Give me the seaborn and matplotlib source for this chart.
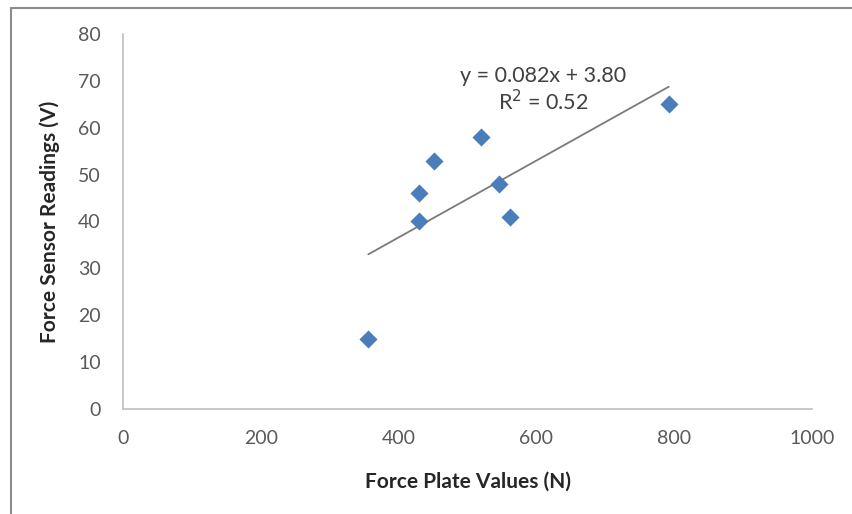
import matplotlib
matplotlib.use("Agg")
import matplotlib.pyplot as plt
from matplotlib.patches import Rectangle
import numpy as np
import pandas as pd
import seaborn as sns

# Paired measurements: force plate (N) vs. force sensor output (V)
force_plate = [356, 430, 430, 451, 520, 546, 562, 792]
sensor_reading = [15, 40, 46, 53, 58, 48, 41, 65]

# Linear trendline as reported on the chart
slope = 0.082
intercept = 3.80
r_squared = 0.52

x_ticks = [0, 200, 400, 600, 800, 1000]
y_ticks = [0, 10, 20, 30, 40, 50, 60, 70, 80]

df = pd.DataFrame({"plate": force_plate, "sensor": sensor_reading})
x_fit = np.array([min(force_plate), max(force_plate)])
fit_df = pd.DataFrame({"plate": x_fit, "sensor": slope * x_fit + intercept})

sns.set_theme(style="white")
plt.rcParams["font.family"] = ["Lato", "DejaVu Sans"]

fig = plt.figure(figsize=(8.53, 5.14), dpi=100)
ax = fig.add_axes([0.1442, 0.2043, 0.8078, 0.7296])

sns.lineplot(data=fit_df, x="plate", y="sensor", ax=ax, color="#7a7a7a",
             linewidth=1.3, zorder=2)
sns.scatterplot(data=df, x="plate", y="sensor", ax=ax, marker="D", s=85,
                color="#4a7ebb", linewidth=0, zorder=3)

ax.set_xlim(0, 1000)
ax.set_ylim(0, 80)
ax.set_xticks(x_ticks)
ax.set_yticks(y_ticks)
ax.tick_params(axis="both", length=0, labelsize=14, colors="#595959")
ax.tick_params(axis="x", pad=15)
ax.tick_params(axis="y", pad=16)

for side in ("top", "right"):
    ax.spines[side].set_visible(False)
for side in ("left", "bottom"):
    ax.spines[side].set_color("#bfbfbf")
    ax.spines[side].set_linewidth(1.2)

ax.set_xlabel("Force Plate Values (N)", fontsize=15, fontweight="bold",
              color="#262626", labelpad=18)
ax.set_ylabel("Force Sensor Readings (V)", fontsize=15, fontweight="bold",
              color="#262626", labelpad=13)

ax.text(610, 71.0, f"y = {slope:.3f}x + {intercept:.2f}", ha="center",
        va="center", fontsize=15.5, color="#404040")
ax.text(610, 65.5, f"R$^2$ = {r_squared:.2f}", ha="center", va="center",
        fontsize=15.5, color="#404040")

# Chart-area frame
fig.patches.append(Rectangle((11 / 853, -0.1), 1.2, 1 - 8 / 514 + 0.1,
                             transform=fig.transFigure, fill=False,
                             edgecolor="#8c8c8c", linewidth=1.5))

fig.savefig("out.png", dpi=100, facecolor="white")
